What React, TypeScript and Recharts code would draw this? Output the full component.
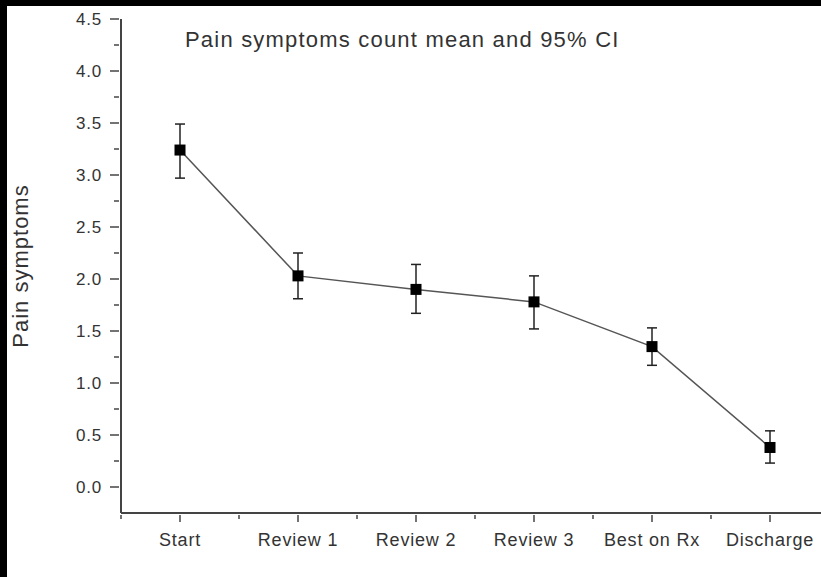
import React from "react";
import { LineChart, Line, XAxis, YAxis, ErrorBar } from "recharts";

const categories = ["Start", "Review 1", "Review 2", "Review 3", "Best on Rx", "Discharge"];
const means = [3.24, 2.03, 1.9, 1.78, 1.35, 0.38];
const ciLow = [2.97, 1.81, 1.67, 1.52, 1.17, 0.23];
const ciHigh = [3.49, 2.25, 2.14, 2.03, 1.53, 0.54];

const xTicks = [-0.5, 0, 0.5, 1, 1.5, 2, 2.5, 3, 3.5, 4, 4.5, 5, 5.5];
const yTicks = [0, 0.25, 0.5, 0.75, 1, 1.25, 1.5, 1.75, 2, 2.25, 2.5, 2.75, 3, 3.25, 3.5, 3.75, 4, 4.25, 4.5];

const data = categories.map((name, i) => ({
  idx: i,
  name,
  mean: means[i],
  low: ciLow[i],
  high: ciHigh[i],
}));

const FONT = "'Liberation Sans', Arial, sans-serif";
const AXIS = "#444";

const XTick = (props: any) => {
  const { x, y, payload } = props;
  const v = payload.value;
  const major = Number.isInteger(v);
  return (
    <g>
      <line x1={x} x2={x} y1={y} y2={y + (major ? 7 : 4)} stroke={AXIS} strokeWidth={1.5} />
      {major && (
        <text x={x} y={y + 31} textAnchor="middle" fontSize={18} letterSpacing={0.8} fill="#333" fontFamily={FONT}>
          {categories[v]}
        </text>
      )}
    </g>
  );
};

const YTick = (props: any) => {
  const { x, y, payload } = props;
  const v = payload.value;
  const major = Math.abs(v * 2 - Math.round(v * 2)) < 1e-9;
  return (
    <g>
      <line x1={x - (major ? 9 : 5)} x2={x} y1={y} y2={y} stroke={AXIS} strokeWidth={1.5} />
      {major && (
        <text x={x - 17} y={y} dy="0.36em" textAnchor="end" fontSize={17} letterSpacing={0.8} fill="#333" fontFamily={FONT}>
          {v.toFixed(1)}
        </text>
      )}
    </g>
  );
};

const SquareDot = (props: any) => {
  const { cx, cy } = props;
  if (cx == null || cy == null) return null;
  return <rect x={cx - 5.5} y={cy - 5.5} width={11} height={11} fill="#000" />;
};

export default function App() {
  return (
    <div style={{ position: "absolute", left: 0, top: 0, width: 821, height: 577, background: "#000", overflow: "hidden" }}>
      <div style={{ position: "absolute", left: 7, top: 6, width: 814, height: 571, background: "#fff", overflow: "hidden", fontFamily: FONT }}>
        <div style={{ position: "absolute", left: 178, top: 21, fontSize: 22, letterSpacing: 1.2, color: "#333", whiteSpace: "nowrap", zIndex: 2 }}>
          Pain symptoms count mean and 95% CI
        </div>
        <LineChart width={830} height={571} data={data} margin={{ top: 13, right: 8, left: 0, bottom: 0 }}>
          <XAxis
            dataKey="idx"
            type="number"
            domain={[-0.5, 5.5]}
            ticks={xTicks}
            interval={0}
            tickSize={0}
            tickLine={false}
            tick={<XTick />}
            axisLine={{ stroke: AXIS, strokeWidth: 2 }}
            height={64}
            allowDataOverflow
          />
          <YAxis
            type="number"
            domain={[-0.25, 4.5]}
            ticks={yTicks}
            interval={0}
            tickSize={0}
            tickLine={false}
            tick={<YTick />}
            axisLine={{ stroke: AXIS, strokeWidth: 2 }}
            width={114}
            allowDataOverflow
            label={{
              value: "Pain symptoms",
              angle: -90,
              position: "insideLeft",
              offset: 13,
              style: { textAnchor: "middle", fontSize: 22, letterSpacing: 1, fill: "#333", fontFamily: FONT },
            }}
          />
          <Line
            dataKey="mean"
            stroke="#555"
            strokeWidth={1.5}
            dot={<SquareDot />}
            activeDot={false}
            isAnimationActive={false}
          >
            <ErrorBar
              dataKey={(d: any) => [d.mean - d.low, d.high - d.mean]}
              width={5}
              stroke="#222"
              strokeWidth={1.5}
              direction="y"
              isAnimationActive={false}
            />
          </Line>
        </LineChart>
      </div>
    </div>
  );
}
